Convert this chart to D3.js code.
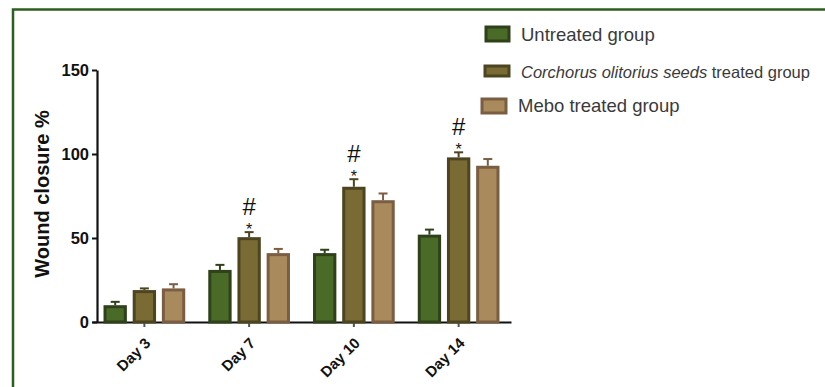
<!DOCTYPE html>
<html>
<head>
<meta charset="utf-8">
<script src="https://cdn.jsdelivr.net/npm/d3@7"></script>
<style>
  html, body { margin: 0; padding: 0; background: #ffffff; }
  svg { display: block; }
  text { font-family: "Liberation Sans", Arial, Helvetica, sans-serif; }
</style>
</head>
<body>
<svg id="chart" width="825" height="387"></svg>
<script>
// Wound closure (%) by day for the three treatment groups
const days = ["Day 3", "Day 7", "Day 10", "Day 14"];
const seriesKeys = ["untreated", "corchorus", "mebo"];
const untreatedMean = [10, 31, 41, 52];
const untreatedErr  = [2, 3, 2, 3];
const corchorusMean = [19, 50.5, 80.5, 98];
const corchorusErr  = [1, 3, 4.5, 3];
const meboMean      = [20, 41, 72.5, 93];
const meboErr       = [2.5, 2.5, 4, 4];
// significance marks shown above the Corchorus bars
const corchorusMarks = [false, true, true, true];
const yTicks = [0, 50, 100, 150];

const fills   = { untreated: "#4a6a28", corchorus: "#7a6a34", mebo: "#a98a5c" };
const strokes = { untreated: "#2f4119", corchorus: "#4d4520", mebo: "#7b5d42" };

const meanBySeries = { untreated: untreatedMean, corchorus: corchorusMean, mebo: meboMean };
const errBySeries  = { untreated: untreatedErr,  corchorus: corchorusErr,  mebo: meboErr };

const svg = d3.select("#chart");

// outer frame (top and left edges)
svg.append("path")
  .attr("d", "M13,387 L13,9.5 L825,9.5")
  .attr("fill", "none")
  .attr("stroke", "#2b5e1f")
  .attr("stroke-width", 2.5);

const y = d3.scaleLinear().domain([0, 150]).range([322, 70]);
const x = d3.scaleBand().domain(days).range([92, 511]).padding(0);
const xi = d3.scaleBand().domain(seriesKeys)
  .range([x.bandwidth() * 0.11, x.bandwidth() * 0.89])
  .paddingInner(0.2).paddingOuter(0);

// y axis
const yAxis = svg.append("g")
  .attr("transform", "translate(97,0)")
  .call(d3.axisLeft(y).tickValues(yTicks).tickSize(5).tickSizeOuter(0).tickPadding(3));
yAxis.select(".domain").attr("stroke", "#111").attr("stroke-width", 2.2);
yAxis.selectAll(".tick line").attr("stroke", "#111").attr("stroke-width", 2);
yAxis.selectAll(".tick text")
  .attr("font-size", 16.5).attr("font-weight", "bold").attr("fill", "#111");

// x axis
const xAxis = svg.append("g")
  .attr("transform", "translate(0,322)")
  .call(d3.axisBottom(x).tickSize(5).tickSizeOuter(0).tickFormat(""));
xAxis.select(".domain").attr("stroke", "#111").attr("stroke-width", 2.2);
xAxis.selectAll(".tick line").attr("stroke", "#555").attr("stroke-width", 2);

svg.append("g").selectAll("text")
  .data(days).join("text")
  .attr("transform", d => `translate(${x(d) + x.bandwidth() / 2 + 7},344) rotate(-45)`)
  .attr("text-anchor", "end")
  .attr("font-size", 15).attr("font-weight", "bold").attr("fill", "#111")
  .text(d => d);

// y axis title
svg.append("text")
  .attr("transform", "translate(49,194) rotate(-90)")
  .attr("text-anchor", "middle")
  .attr("font-size", 20).attr("font-weight", "bold").attr("fill", "#111")
  .text("Wound closure %");

// bars and error bars
const sw = 3;
const groups = svg.append("g").selectAll("g")
  .data(days).join("g")
  .attr("transform", d => `translate(${x(d)},0)`);

seriesKeys.forEach(key => {
  const bw = xi.bandwidth();
  groups.append("rect")
    .attr("x", xi(key) + sw / 2)
    .attr("width", bw - sw)
    .attr("y", (d, i) => y(meanBySeries[key][i]) + sw / 2)
    .attr("height", (d, i) => y(0) - y(meanBySeries[key][i]) - sw / 2)
    .attr("fill", fills[key])
    .attr("stroke", strokes[key])
    .attr("stroke-width", sw);

  const cx = xi(key) + bw / 2;
  groups.append("line")
    .attr("x1", cx).attr("x2", cx)
    .attr("y1", (d, i) => y(meanBySeries[key][i]))
    .attr("y2", (d, i) => y(meanBySeries[key][i] + errBySeries[key][i]))
    .attr("stroke", strokes[key]).attr("stroke-width", 2);
  groups.append("line")
    .attr("x1", cx - 4.5).attr("x2", cx + 4.5)
    .attr("y1", (d, i) => y(meanBySeries[key][i] + errBySeries[key][i]))
    .attr("y2", (d, i) => y(meanBySeries[key][i] + errBySeries[key][i]))
    .attr("stroke", strokes[key]).attr("stroke-width", 2);
});

// significance marks: "#" over "*"
const markX = xi("corchorus") + xi.bandwidth() / 2;
groups.filter((d, i) => corchorusMarks[i]).each(function (d) {
  const i = days.indexOf(d);
  const top = y(corchorusMean[i] + corchorusErr[i]);
  const g = d3.select(this);
  g.append("text")
    .attr("x", markX).attr("y", top + 3)
    .attr("text-anchor", "middle")
    .attr("font-size", 16).attr("fill", "#111")
    .text("*");
  g.append("text")
    .attr("x", markX).attr("y", top - 17.5)
    .attr("text-anchor", "middle")
    .attr("font-size", 24).attr("fill", "#111")
    .text("#");
});

// legend
const legend = svg.append("g");
const legendRows = [
  { key: "untreated", sx: 486, sy: 27, sw: 23, sh: 14, tx: 521, ty: 41, size: 18.5 },
  { key: "corchorus", sx: 485, sy: 66, sw: 24, sh: 10, tx: 521, ty: 78, size: 16.5 },
  { key: "mebo",      sx: 482, sy: 99, sw: 24, sh: 14, tx: 518, ty: 112, size: 18.5 }
];
legendRows.forEach(r => {
  legend.append("rect")
    .attr("x", r.sx).attr("y", r.sy).attr("width", r.sw).attr("height", r.sh)
    .attr("fill", fills[r.key]).attr("stroke", strokes[r.key]).attr("stroke-width", 3);
});
legend.append("text")
  .attr("x", legendRows[0].tx).attr("y", legendRows[0].ty)
  .attr("font-size", legendRows[0].size).attr("fill", "#3a3a3a")
  .text("Untreated group");
const t2 = legend.append("text")
  .attr("x", legendRows[1].tx).attr("y", legendRows[1].ty)
  .attr("font-size", legendRows[1].size).attr("fill", "#3a3a3a");
t2.append("tspan").attr("font-style", "italic").text("Corchorus olitorius seeds");
t2.append("tspan").text(" treated group");
legend.append("text")
  .attr("x", legendRows[2].tx).attr("y", legendRows[2].ty)
  .attr("font-size", legendRows[2].size).attr("fill", "#3a3a3a")
  .text("Mebo treated group");
</script>
</body>
</html>
